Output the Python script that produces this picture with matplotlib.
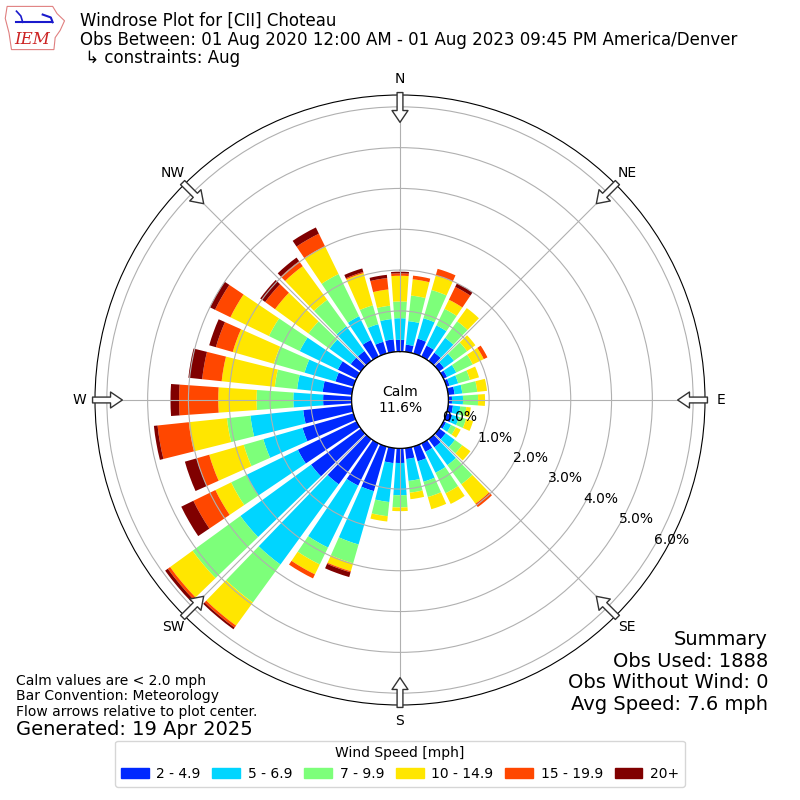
import numpy as np
import matplotlib
matplotlib.use("Agg")
import matplotlib.pyplot as plt
from matplotlib.patches import Rectangle, Polygon

# direction bins (deg, meteorological) and percent of obs per speed class
directions = np.arange(0, 360, 10)
speed_labels = ['2 - 4.9', '5 - 6.9', '7 - 9.9', '10 - 14.9', '15 - 19.9', '20+']
pct_2_5 = [0.29, 0.18, 0.38, 0.30, 0.25, 0.15, 0.10, 0.08, 0.16, 0.09, 0.12, 0.15,
           0.07, 0.20, 0.25, 0.23, 0.38, 0.27, 0.36, 0.37, 1.14, 1.15, 1.37, 1.51,
           1.60, 1.30, 1.20, 0.70, 0.72, 0.46, 0.51, 0.31, 0.30, 0.45, 0.30, 0.31]
pct_5_7 = [0.53, 0.58, 0.52, 0.55, 0.45, 0.30, 0.25, 0.22, 0.19, 0.27, 0.18, 0.17,
           0.14, 0.28, 0.54, 0.57, 0.52, 0.54, 0.79, 0.96, 1.36, 1.69, 2.43, 2.14,
           1.40, 1.00, 1.30, 0.73, 0.63, 0.79, 1.04, 0.64, 0.75, 0.65, 0.45, 0.50]
pct_7_10 = [0.41, 0.63, 0.72, 0.45, 0.50, 0.40, 0.45, 0.30, 0.37, 0.37, 0.15, 0.18,
            0.13, 0.22, 0.58, 0.56, 0.39, 0.29, 0.30, 0.35, 0.48, 0.46, 1.15, 1.45,
            0.42, 0.50, 0.58, 0.90, 0.55, 0.78, 0.84, 0.64, 0.80, 1.15, 0.48, 0.33]
pct_10_15 = [0.63, 0.40, 0.37, 0.25, 0.40, 0.25, 0.30, 0.23, 0.24, 0.17, 0.11, 0.18,
             0.13, 0.25, 0.59, 0.29, 0.31, 0.16, 0.09, 0.13, 0.20, 0.27, 0.70, 0.68,
             0.43, 0.88, 0.94, 0.94, 1.31, 1.05, 1.05, 1.01, 1.02, 0.76, 0.82, 0.40]
pct_15_20 = [0.06, 0.09, 0.17, 0.35, 0.00, 0.00, 0.10, 0.00, 0.00, 0.00, 0.00, 0.00,
             0.00, 0.00, 0.10, 0.00, 0.00, 0.00, 0.00, 0.00, 0.03, 0.11, 0.06, 0.07,
             0.60, 0.32, 0.77, 0.96, 0.48, 0.43, 0.42, 0.30, 0.15, 0.34, 0.03, 0.28]
pct_20p = [0.04, 0.00, 0.00, 0.10, 0.00, 0.00, 0.00, 0.00, 0.00, 0.00, 0.00, 0.00,
           0.00, 0.00, 0.00, 0.00, 0.00, 0.00, 0.00, 0.00, 0.12, 0.00, 0.05, 0.08,
           0.33, 0.30, 0.09, 0.21, 0.34, 0.17, 0.14, 0.15, 0.11, 0.17, 0.09, 0.08]
calm_pct = 11.6
compass = ['N', 'NE', 'E', 'SE', 'S', 'SW', 'W', 'NW']

series = [pct_2_5, pct_5_7, pct_7_10, pct_10_15, pct_15_20, pct_20p]
colors = plt.cm.jet(np.arange(1, 7) / 6.)

fig = plt.figure(figsize=(8, 8), dpi=100)
ax = fig.add_axes([0.11875, 0.11875, 0.7625, 0.7625], projection='polar')
ax.set_theta_zero_location('N')
ax.set_theta_direction(-1)

theta = np.radians(directions)
bottom = np.zeros(len(directions))
for vals, col, lab in zip(series, colors, speed_labels):
    vals = np.array(vals)
    ax.bar(theta, vals, width=np.radians(8), bottom=bottom, color=col,
           linewidth=0, label=lab)
    bottom += vals

rmax = 6.29
ax.set_rorigin(-1.184)
ax.set_ylim(0, rmax)
ax.set_rgrids(np.arange(0, 7), labels=['%.1f%%' % v for v in range(7)], angle=120)
ax.set_thetagrids(np.arange(0, 360, 45), labels=compass)
ax.tick_params(axis='x', pad=1)

# calm circle
tt = np.linspace(0, 2 * np.pi, 400)
ax.plot(tt, np.zeros_like(tt), color='k', lw=1)
ax.text(0.5, 0.5, 'Calm\n%.1f%%' % calm_pct, transform=ax.transAxes,
        ha='center', va='center', fontsize=10)

# flow arrows
for d in np.arange(0, 360, 45):
    ax.annotate('', xy=(np.radians(d), 5.62), xytext=(np.radians(d), 6.35),
                arrowprops=dict(arrowstyle='simple,head_length=0.85,head_width=1.15,tail_width=0.42',
                                fc='white', ec='#333333', lw=1, mutation_scale=10,
                                shrinkA=0, shrinkB=0),
                annotation_clip=False)

# header
fig.text(0.1, 0.985, 'Windrose Plot for [CII] Choteau\n'
         'Obs Between: 01 Aug 2020 12:00 AM - 01 Aug 2023 09:45 PM America/Denver\n'
         ' \u21b3 constraints: Aug', va='top', ha='left', fontsize=12, linespacing=1.05)

# logo
lax = fig.add_axes([0.005, 0.935, 0.078, 0.06])
lax.set_xlim(0, 1)
lax.set_ylim(0, 1)
lax.axis('off')
iowa = [(0.05, 0.95), (0.78, 0.95), (0.85, 0.8), (0.97, 0.65), (0.9, 0.45), (0.82, 0.3),
        (0.8, 0.05), (0.12, 0.05), (0.08, 0.4), (0.02, 0.7)]
lax.add_patch(Polygon(iowa, closed=True, fill=False, ec='#e08080', lw=0.8))
lax.plot([0.2, 0.75], [0.62, 0.62], color='#1a1acc', lw=1.5)
lax.plot([0.2, 0.27, 0.3], [0.85, 0.75, 0.62], color='#1a1acc', lw=1.2)
lax.plot([0.62, 0.75, 0.78], [0.78, 0.72, 0.62], color='#1a1acc', lw=1.5)
lax.text(0.45, 0.25, 'IEM', color='#cc2222', fontsize=12, family='serif',
         style='italic', ha='center', va='center')

# footer notes
fig.text(0.02, 0.158, 'Calm values are < 2.0 mph\nBar Convention: Meteorology\n'
         'Flow arrows relative to plot center.', fontsize=10, va='top', ha='left',
         linespacing=1.15)
fig.text(0.02, 0.088, 'Generated: 19 Apr 2025', fontsize=14, va='center', ha='left')
fig.text(0.96, 0.212, 'Summary\nObs Used: 1888\nObs Without Wind: 0\nAvg Speed: 7.6 mph',
         fontsize=14, va='top', ha='right', linespacing=1.16)

leg_handles = [Rectangle((0, 0), 1, 1, color=c) for c in colors]
fig.legend(leg_handles, speed_labels, loc='lower center', bbox_to_anchor=(0.5, 0.008),
           ncol=6, title='Wind Speed [mph]', fontsize=10, title_fontsize=10,
           columnspacing=0.85, handletextpad=0.55)

fig.savefig('out.png', dpi=100)
